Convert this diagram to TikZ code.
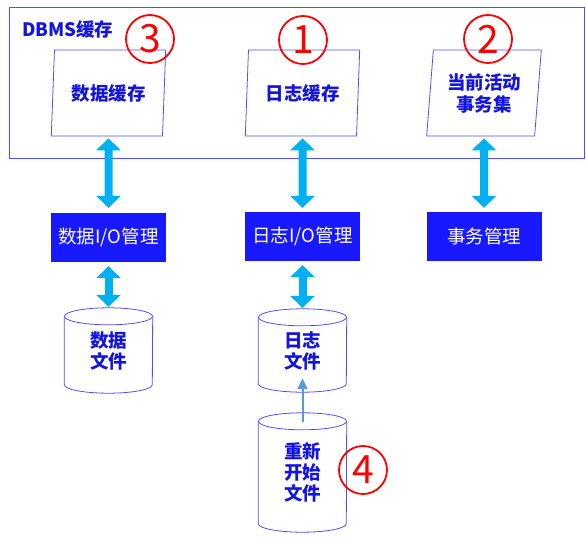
\documentclass[tikz,border=0pt]{standalone}
\usepackage{fontspec}
\setmainfont{Noto Sans CJK SC}
\usepackage{tikz}
\usetikzlibrary{shapes.geometric, arrows.meta, positioning, calc}
\definecolor{dbblue}{RGB}{25,25,255}
\definecolor{dbline}{RGB}{80,80,255}
\definecolor{dbtext}{RGB}{20,20,225}
\definecolor{dbcyan}{RGB}{0,176,240}
\definecolor{dbsteel}{RGB}{91,155,213}
\definecolor{dbred}{RGB}{255,0,0}

\begin{document}
\begin{tikzpicture}[
    x=1pt, y=-1pt,
    buf/.style={trapezium, trapezium left angle=83, trapezium right angle=97, trapezium stretches=true,
                draw=dbline, line width=0.8pt, minimum width=115pt, minimum height=86pt, inner sep=0pt,
                font=\bfseries\fontsize{18.5}{22}\selectfont, text=dbtext, align=center},
    mgr/.style={rectangle, fill=dbblue, minimum width=115pt, minimum height=49pt,
                font=\fontsize{18.5}{20}\selectfont, text=white},
    store/.style={rectangle, minimum width=88pt, inner sep=0pt,
                  font=\bfseries\fontsize{18.5}{21}\selectfont, text=dbtext, align=center},
    num/.style={circle, draw=dbred, line width=1.8pt, minimum size=48pt, inner sep=0pt,
                text=dbred, font=\fontsize{39}{39}\selectfont},
    dbl/.style={{Triangle[length=12pt,width=24pt]}-{Triangle[length=12pt,width=24pt]},
                line width=8pt, color=dbcyan},
    arr/.style={-{Triangle[length=11pt,width=10pt]}, line width=2pt, color=dbsteel},
]
\useasboundingbox (0,0) rectangle (586,540);

\node[draw=dbline, line width=0.8pt, minimum width=575pt, minimum height=151pt, inner sep=0pt] (cache) at (296.5,82.5) {};
\node[anchor=west, font=\bfseries\fontsize{18.5}{20}\selectfont, text=dbtext] (cachelabel) at (18.5,29) {DBMS缓存};

\node[buf] (databuf) at (108.5,93) {数据缓存};
\node[buf] (logbuf) at (302.5,93) {日志缓存};
\node[buf] (txbuf) at (484,93) {当前活动\\事务集};

\node[mgr] (dataio) at (108.5,237.5) {数据I/O管理};
\node[mgr] (logio) at (302.5,236.5) {日志I/O管理};
\node[mgr] (txmgr) at (484,236.5) {事务管理};

\node[store, minimum height=85pt] (datafile) at (108.5,350.5) {数据\\文件};
\node[store, minimum height=83pt] (logfile) at (302.5,350.5) {日志\\文件};
\node[store, minimum height=119pt] (restartfile) at (302.5,472.5) {重新\\开始\\文件};

\foreach \s in {datafile,logfile,restartfile}{
  \draw[dbline, line width=0.8pt] ($(\s.north west)+(0,8.5)$) -- ($(\s.south west)+(0,-8.5)$)
    arc[start angle=180, end angle=360, x radius=44pt, y radius=8.5pt] -- ($(\s.north east)+(0,8.5)$);
  \draw[dbline, line width=0.8pt] ($(\s.north)+(0,8.5)$) ellipse[x radius=44pt, y radius=8.5pt];
}

\node[num] (n3) at (150,39) {3};
\node[num] (n1) at (303,40) {1};
\node[num] (n2) at (488,39) {2};
\node[num] (n4) at (363,470) {4};

\draw[dbl, shorten <=2pt, shorten >=5pt] (databuf) -- (dataio);
\draw[dbl, shorten <=2pt, shorten >=4pt] (logbuf) -- (logio);
\draw[dbl, shorten <=2pt, shorten >=4pt] (txbuf) -- (txmgr);
\draw[dbl, shorten <=4pt, shorten >=1pt] (dataio) -- (datafile);
\draw[dbl, shorten <=4pt, shorten >=1pt] (logio) -- (logfile);
\draw[arr, shorten <=-9pt, shorten >=-14pt] (restartfile) -- (logfile);
\end{tikzpicture}
\end{document}
